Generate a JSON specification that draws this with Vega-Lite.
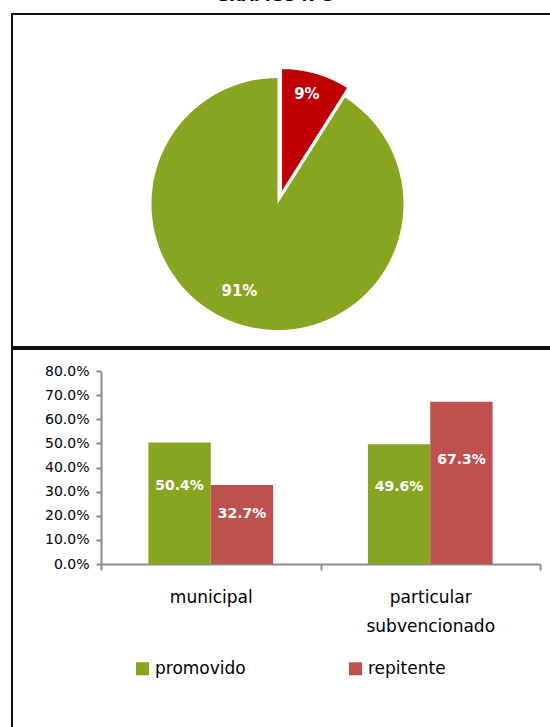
{
  "$schema": "https://vega.github.io/schema/vega-lite/v6.json",
  "background": "white",
  "padding": {"left": 11, "top": -12, "right": 0, "bottom": 0},
  "spacing": 0,
  "title": {"text": "GRÁFICO N°3", "font": "DejaVu Sans", "fontSize": 16, "fontWeight": "bold", "color": "#000", "anchor": "middle", "dx": -11, "offset": 9},
  "config": {"view": {"stroke": "#111", "strokeWidth": 2}, "font": "DejaVu Sans"},
  "resolve": {"scale": {"color": "independent"}, "legend": {"color": "independent"}},
  "vconcat": [
    {
      "width": 548,
      "height": 333,
      "view": {"stroke": "#111", "strokeWidth": 2},
      "data": {"values": [
        {"tipo": "repitente", "p": 0.09, "orden": 1},
        {"tipo": "promovido", "p": 0.91, "orden": 2}
      ]},
      "layer": [
        {
          "mark": {"type": "point", "opacity": 0},
          "encoding": {
            "x": {"field": "p", "type": "quantitative", "axis": null},
            "y": {"field": "p", "type": "quantitative", "axis": null}
          }
        },
        {
          "mark": {"type": "arc", "outerRadius": 126, "xOffset": -8.5, "yOffset": 23.5},
          "encoding": {
            "theta": {"field": "p", "type": "quantitative", "stack": true},
            "order": {"field": "orden", "type": "quantitative"},
            "color": {"field": "tipo", "type": "nominal", "scale": {"domain": ["promovido", "repitente"], "range": ["#87A520", "#C00000"]}, "legend": null},
            "opacity": {"condition": {"test": "datum.tipo === 'promovido'", "value": 1}, "value": 0}
          }
        },
        {
          "mark": {"type": "arc", "outerRadius": 126, "xOffset": -5, "yOffset": 13.5, "stroke": "white", "strokeWidth": 2},
          "encoding": {
            "theta": {"field": "p", "type": "quantitative", "stack": true},
            "order": {"field": "orden", "type": "quantitative"},
            "color": {"field": "tipo", "type": "nominal", "scale": {"domain": ["promovido", "repitente"], "range": ["#87A520", "#C00000"]}, "legend": null},
            "opacity": {"condition": {"test": "datum.tipo === 'repitente'", "value": 1}, "value": 0}
          }
        },
        {
          "mark": {"type": "text", "radius": 97, "xOffset": -8.5, "yOffset": 23.5, "dx": -11, "dy": -6, "font": "DejaVu Sans", "fontSize": 15, "fontWeight": "bold", "fill": "white"},
          "encoding": {
            "theta": {"field": "p", "type": "quantitative", "stack": true},
            "order": {"field": "orden", "type": "quantitative"},
            "text": {"field": "p", "type": "quantitative", "format": ".0%"},
            "opacity": {"condition": {"test": "datum.tipo === 'promovido'", "value": 1}, "value": 0}
          }
        },
        {
          "mark": {"type": "text", "radius": 100, "xOffset": -5, "yOffset": 13.5, "dx": -2, "dy": -4, "font": "DejaVu Sans", "fontSize": 15, "fontWeight": "bold", "fill": "white"},
          "encoding": {
            "theta": {"field": "p", "type": "quantitative", "stack": true},
            "order": {"field": "orden", "type": "quantitative"},
            "text": {"field": "p", "type": "quantitative", "format": ".0%"},
            "opacity": {"condition": {"test": "datum.tipo === 'repitente'", "value": 1}, "value": 0}
          }
        }
      ]
    },
    {
      "width": 548,
      "height": 400,
      "data": {"values": [
        {"dep": "municipal", "tipo": "promovido", "v": 0.504},
        {"dep": "municipal", "tipo": "repitente", "v": 0.327},
        {"dep": "particular subvencionado", "tipo": "promovido", "v": 0.496},
        {"dep": "particular subvencionado", "tipo": "repitente", "v": 0.673}
      ]},
      "encoding": {
        "x": {
          "field": "dep", "type": "nominal", "sort": null, "title": null,
          "scale": {"range": [89, 528], "paddingInner": 0, "paddingOuter": 0},
          "axis": {"orient": "bottom", "offset": -185, "tickBand": "extent", "domainColor": "#8c8c8c", "domainWidth": 2, "tickColor": "#8c8c8c", "tickWidth": 2, "tickSize": 6, "labelAngle": 0, "labelExpr": "split(datum.label, ' ')", "labelFont": "DejaVu Sans", "labelFontSize": 17, "labelColor": "#000", "labelLineHeight": 29, "labelPadding": 19}
        },
        "xOffset": {"field": "tipo", "type": "nominal", "scale": {"paddingInner": 0, "paddingOuter": 0.76}}
      },
      "layer": [
        {
          "mark": {"type": "bar"},
          "encoding": {
            "y": {
              "field": "v", "type": "quantitative", "title": null,
              "scale": {"domain": [0, 0.8], "range": [215, 22], "nice": false},
              "axis": {"orient": "left", "offset": -89, "format": ".1%", "values": [0, 0.1, 0.2, 0.3, 0.4, 0.5, 0.6, 0.7, 0.8], "grid": false, "domainColor": "#8c8c8c", "domainWidth": 2, "tickColor": "#8c8c8c", "tickWidth": 2, "tickSize": 5, "labelFont": "DejaVu Sans", "labelFontSize": 14, "labelColor": "#000", "labelPadding": 7}
            },
            "color": {
              "field": "tipo", "type": "nominal",
              "scale": {"domain": ["promovido", "repitente"], "range": ["#87A520", "#C0504D"]},
              "legend": {"orient": "none", "legendX": 122, "legendY": 311, "direction": "horizontal", "title": null, "symbolType": "square", "symbolSize": 169, "symbolStrokeWidth": 0, "labelFont": "DejaVu Sans", "labelFontSize": 17, "labelColor": "#000", "labelOffset": 4, "columnPadding": 101}
            }
          }
        },
        {
          "mark": {"type": "text", "font": "DejaVu Sans", "fontSize": 14, "fontWeight": "bold", "fill": "white"},
          "encoding": {
            "y": {"field": "v", "type": "quantitative", "scale": {"domain": [0, 1.25], "range": [215, 22], "nice": false}, "axis": null},
            "text": {"field": "v", "type": "quantitative", "format": ".1%"}
          }
        }
      ],
      "resolve": {"scale": {"y": "independent"}}
    }
  ]
}
